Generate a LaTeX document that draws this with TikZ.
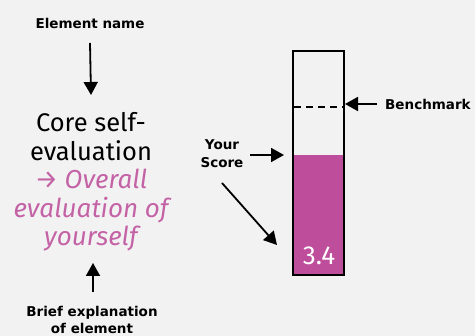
\documentclass[tikz,border=0pt]{standalone}
\usepackage{fontspec}
\setmainfont{Fira Sans}
\newfontfamily\lblfont{DejaVu Sans}
\usetikzlibrary{arrows.meta}
\definecolor{bg}{HTML}{F2F2F2}
\definecolor{barpink}{HTML}{BE4E9B}
\definecolor{txtpink}{HTML}{C462A6}
\tikzset{
  x=1pt,y=-1pt,
  lbl/.style={font=\lblfont\fontsize{13.5}{17}\selectfont\bfseries, align=center, inner sep=0pt},
  main/.style={font=\fontsize{25.5}{29}\selectfont, anchor=base, inner sep=0pt},
  expl/.style={main, font=\fontsize{26}{29}\selectfont\itshape, text=txtpink},
  arr/.style={-{Triangle[length=13pt,width=14pt]}, line width=1.8pt},
}
\begin{document}
\begin{tikzpicture}
\fill[bg] (0,0) rectangle (475,336);
\useasboundingbox (0,0) rectangle (475,336);
% left column
\node[lbl] (ename) at (90,23) {Element name};
\coordinate (a1s) at (90,43);
\coordinate (a1e) at (91,95);
\draw[arr] (a1s) -- (a1e);
\node[main] (core1) at (91,132) {Core self-};
\node[main] (core2) at (91,161) {evaluation};
\node[expl] (ex1) at (91,189) {→ Overall};
\node[expl] (ex2) at (91,218) {evaluation of};
\node[expl] (ex3) at (91,246) {yourself};
\coordinate (a2s) at (93,292);
\coordinate (a2e) at (93,263);
\draw[arr] (a2s) -- (a2e);
\node[lbl] (brief) at (92,320) {Brief explanation\\of element};
% bar
\fill[barpink] (293,155) rectangle (344,275);
\draw[line width=1.8pt] (293,51) rectangle (344,275);
\coordinate (bl) at (294,107);
\coordinate (br) at (344,107);
\draw[dash pattern=on 7pt off 5pt, line width=1.5pt] (bl) -- (br);
\node[font=\fontsize{26}{26}\selectfont, text=white, inner sep=0pt, anchor=base] (score) at (319,265) {3.4};
% benchmark
\node[lbl, anchor=west] (bench) at (385,104) {Benchmark};
\coordinate (b1s) at (377,104);
\coordinate (b1e) at (345,104);
\draw[arr] (b1s) -- (b1e);
% your score
\node[lbl, font=\lblfont\fontsize{13.5}{18}\selectfont\bfseries] (your) at (222,154) {Your\\Score};
\coordinate (y1s) at (250,155);
\coordinate (y1e) at (284,155);
\draw[arr] (y1s) -- (y1e);
\coordinate (y2s) at (222,183);
\coordinate (y2e) at (277,245);
\draw[arr] (y2s) -- (y2e);
\end{tikzpicture}
\end{document}
